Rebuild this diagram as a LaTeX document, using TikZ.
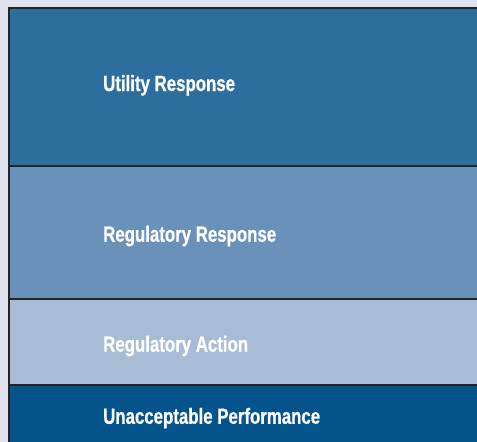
\documentclass[tikz,border=0pt]{standalone}
\usepackage{fontspec}
\newfontfamily\condfont[FakeStretch=0.765,FakeBold=0.6]{Liberation Sans}
\definecolor{bgc}{HTML}{DEE3EE}
\definecolor{bandA}{HTML}{2D6E9F}
\definecolor{bandB}{HTML}{6A91BA}
\definecolor{bandC}{HTML}{A8BCD6}
\definecolor{bandD}{HTML}{04538A}
\definecolor{edgec}{HTML}{222428}
\begin{document}
\begin{tikzpicture}[x=1pt,y=-1pt,
  bandlabel/.style={anchor=base west,inner sep=0pt,text=white,font=\condfont\bfseries\fontsize{22}{24}\selectfont},
  sepline/.style={draw=edgec,line width=2.2pt}]
\fill[bgc] (0,0) rectangle (477,442);
\useasboundingbox (0,0) rectangle (477,442);
\fill[bandA] (9,8) rectangle (477,166);
\fill[bandB] (9,166) rectangle (477,298.7);
\fill[bandC] (9,298.7) rectangle (477,385.3);
\fill[bandD] (9,385.3) rectangle (477,442);
\coordinate (tl) at (9,8);
\coordinate (tr) at (478,8);
\coordinate (bl) at (9,443);
\coordinate (s1l) at (9,166);
\coordinate (s1r) at (478,166);
\coordinate (s2l) at (9,298.7);
\coordinate (s2r) at (478,298.7);
\coordinate (s3l) at (9,385.3);
\coordinate (s3r) at (478,385.3);
\draw[sepline] (tr) -- (tl) -- (bl);
\draw[sepline] (s1l) -- (s1r);
\draw[sepline] (s2l) -- (s2r);
\draw[sepline] (s3l) -- (s3r);
\node[bandlabel] (ur) at (103,91) {Utility Response};
\node[bandlabel] (rr) at (103,241.7) {Regulatory Response};
\node[bandlabel] (ra) at (103,351.7) {Regulatory Action};
\node[bandlabel] (up) at (103,423.8) {Unacceptable Performance};
\end{tikzpicture}
\end{document}
